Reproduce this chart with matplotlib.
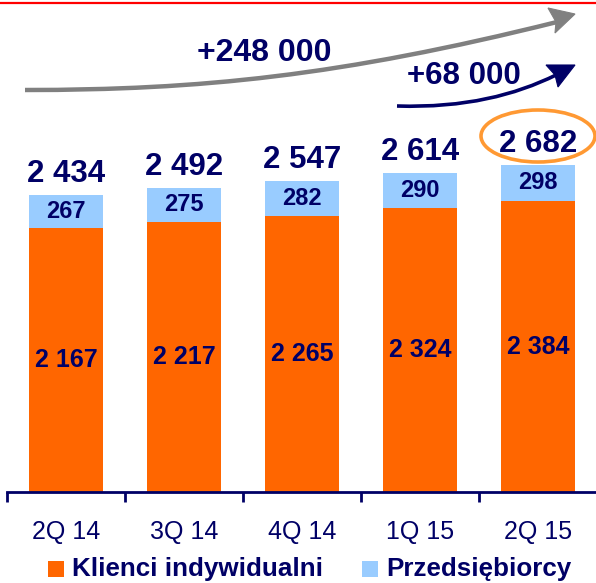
import matplotlib
matplotlib.use("Agg")
import matplotlib.pyplot as plt
from matplotlib.patches import PathPatch, Ellipse, Rectangle, Polygon, Arc
from matplotlib.path import Path
from matplotlib.lines import Line2D

plt.rcParams['font.family'] = ['Liberation Sans', 'DejaVu Sans']

# ---- data ----
categories = ["2Q 14", "3Q 14", "4Q 14", "1Q 15", "2Q 15"]
individual = [2167, 2217, 2265, 2324, 2384]
entrepreneurs = [267, 275, 282, 290, 298]
totals = [2434, 2492, 2547, 2614, 2682]
series_names = ["Klienci indywidualni", "Przedsiębiorcy"]
growth_total = "+248 000"
growth_quarter = "+68 000"

NAVY = "#000066"
ORANGE = "#FF6600"
LBLUE = "#99CCFF"
GRAY = "#808080"

W, H = 596, 583
fig = plt.figure(figsize=(W / 100, H / 100), dpi=100)

# main axes: axis line at y=492 px from top
ax_bottom = (H - 492) / H
ax = fig.add_axes([7 / W, ax_bottom, 590 / W, 492 / H])
ax.patch.set_alpha(0)
x = list(range(len(categories)))
bw = 0.63
ax.bar(x, individual, width=bw, color=ORANGE, zorder=2)
ax.bar(x, entrepreneurs, width=bw, bottom=individual, color=LBLUE, zorder=2)
ax.set_xlim(-0.5, 4.5)
ax.set_ylim(0, 4033)


def fmt(v):
    return f"{v:,}".replace(",", " ")


for i in x:
    ax.text(i, individual[i] / 2, fmt(individual[i]), ha="center", va="center",
            fontsize=18, fontweight="bold", color=NAVY, zorder=3)
    ax.text(i, individual[i] + entrepreneurs[i] / 2, fmt(entrepreneurs[i]),
            ha="center", va="center", fontsize=17, fontweight="bold",
            color=NAVY, zorder=3)
    ax.text(i, totals[i] + 172, fmt(totals[i]), ha="center", va="center",
            fontsize=22.5, fontweight="bold", color=NAVY, zorder=3)

for s in ["top", "right", "left"]:
    ax.spines[s].set_visible(False)
ax.spines["bottom"].set_color(NAVY)
ax.spines["bottom"].set_linewidth(2)
ax.set_yticks([])
ax.set_xticks(x)
ax.set_xticklabels(categories, fontsize=18, color=NAVY)
ax.set_xticks([-0.5, 0.5, 1.5, 2.5, 3.5], minor=True)
ax.tick_params(axis="x", which="major", length=0, pad=20)
ax.tick_params(axis="x", which="minor", length=7, width=2, color=NAVY,
               direction="out")

# overlay in pixel coordinates
ov = fig.add_axes([0, 0, 1, 1])
ov.set_xlim(0, W)
ov.set_ylim(H, 0)
ov.axis("off")
ov.patch.set_alpha(0)

# red top line and cut-off orange title brackets (only their bottoms show)
ov.add_line(Line2D([0, W], [3, 3], color="#FF0000", lw=1.6))
ov.add_patch(Arc((364, -4), 14, 14, theta1=200, theta2=330, color=ORANGE, lw=3.5))
ov.add_patch(Arc((384, -4), 14, 14, theta1=210, theta2=340, color=ORANGE, lw=3.5))

# gray growth arrow
p_gray = Path([(25, 90), (200, 90), (340, 76), (557, 22)],
              [Path.MOVETO, Path.CURVE4, Path.CURVE4, Path.CURVE4])
ov.add_patch(PathPatch(p_gray, fill=False, edgecolor=GRAY, lw=3.2, capstyle="butt"))
ov.add_patch(Polygon([(575, 14), (548, 8), (556, 22), (555, 33)], closed=True,
                     facecolor=GRAY, edgecolor=GRAY, lw=0.8))
ov.text(264, 53, growth_total, ha="center", va="center", fontsize=23,
        fontweight="bold", color=NAVY)

# navy growth arrow
p_navy = Path([(397, 106), (465, 108), (515, 95), (556, 75)],
              [Path.MOVETO, Path.CURVE4, Path.CURVE4, Path.CURVE4])
ov.add_patch(PathPatch(p_navy, fill=False, edgecolor=NAVY, lw=2.6, capstyle="butt"))
ov.add_patch(Polygon([(575, 65), (546, 65), (555, 75), (558, 87)], closed=True,
                     facecolor=NAVY, edgecolor=NAVY, lw=0.8))
ov.text(464, 76, growth_quarter, ha="center", va="center", fontsize=22.5,
        fontweight="bold", color=NAVY)

# highlight ellipse around last total
ov.add_patch(Ellipse((538, 136), 114, 52, fill=False, edgecolor="#FF9933", lw=2.6))

# legend
leg_colors = [ORANGE, LBLUE]
leg_sq_x = [48, 362]
for name, c, sx in zip(series_names, leg_colors, leg_sq_x):
    ov.add_patch(Rectangle((sx, 561), 16, 16, facecolor=c, edgecolor="none"))
    ov.text(sx + 24, 569, name, ha="left", va="center", fontsize=18.7,
            fontweight="bold", color=NAVY)

fig.savefig("out.png", dpi=100)
